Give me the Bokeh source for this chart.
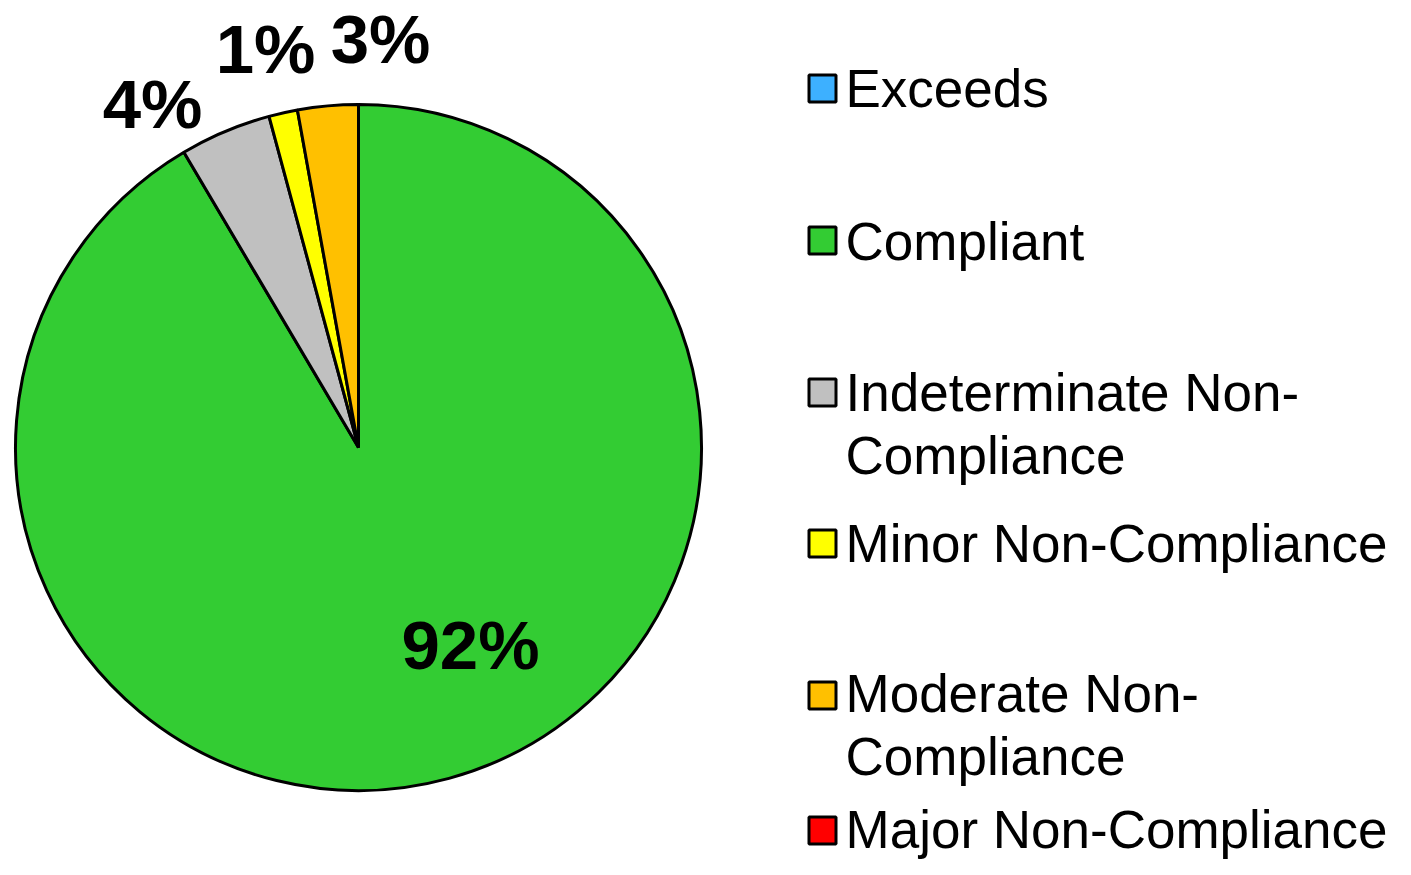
import math
from bokeh.plotting import figure
from bokeh.models import ColumnDataSource
from bokeh.core.properties import value
from bokeh.embed import file_html
from bokeh.resources import INLINE

# ---------------- data ----------------
categories = ["Exceeds", "Compliant", "Indeterminate Non-Compliance",
              "Minor Non-Compliance", "Moderate Non-Compliance", "Major Non-Compliance"]
shares = [0.0, 91.5, 4.3, 1.35, 2.85, 0.0]
pct_labels = ["", "92%", "4%", "1%", "3%", ""]
colors = ["#3DB0FF", "#33CC33", "#C0C0C0", "#FFFF00", "#FFC000", "#FF0000"]
legend_lines = [["Exceeds"], ["Compliant"], ["Indeterminate Non-", "Compliance"],
                ["Minor Non-Compliance"], ["Moderate Non-", "Compliance"],
                ["Major Non-Compliance"]]

# ---------------- layout (picture pixels) ----------------
W, H = 1395, 859
def X(px): return px
def Y(py): return H - py

cx, cy, R = 358, 447, 343
label_pos = {1: (470, 645), 2: (152, 104), 3: (265, 49), 4: (380, 39)}
legend_sq_x = 822
legend_sq_y = [88, 240, 392, 543, 695, 830]
legend_text_x = 845
legend_text_y = [88, 241, 392, 543, 693, 829]
line_gap = 63

FONT = value("Liberation Sans")

p = figure(width=W, height=H, x_range=(0, W), y_range=(0, H),
           x_axis_type=None, y_axis_type=None, toolbar_location=None,
           output_backend="svg", min_border=0)
p.outline_line_color = None
p.grid.visible = False
p.background_fill_color = "white"

total = sum(shares)
starts, ends, wcols = [], [], []
cum = 0.0
for s, c in zip(shares, colors):
    a0 = math.pi / 2 - 2 * math.pi * cum / total
    cum += s
    a1 = math.pi / 2 - 2 * math.pi * cum / total
    if s > 0:
        starts.append(a0)
        ends.append(a1)
        wcols.append(c)

src = ColumnDataSource(dict(x=[X(cx)] * len(starts), y=[Y(cy)] * len(starts),
                            start=starts, end=ends, color=wcols))
p.wedge(x="x", y="y", radius=R, start_angle="start", end_angle="end",
        direction="clock", fill_color="color", line_color="black",
        line_width=3, source=src)

# percentage labels
lx, ly, lt = [], [], []
for i, t in enumerate(pct_labels):
    if t and i in label_pos:
        lx.append(X(label_pos[i][0]))
        ly.append(Y(label_pos[i][1]))
        lt.append(t)
p.text(x=lx, y=ly, text=lt, text_font=FONT, text_font_style="bold",
       text_font_size="69px", text_align="center", text_baseline="middle",
       text_color="black")

# legend
p.rect(x=[X(legend_sq_x)] * len(categories), y=[Y(v) for v in legend_sq_y],
       width=27, height=27, fill_color=colors, line_color="black", line_width=3)
tx, ty, tt = [], [], []
for lines, c in zip(legend_lines, legend_text_y):
    for k, ln in enumerate(lines):
        tx.append(X(legend_text_x))
        ty.append(Y(c + k * line_gap))
        tt.append(ln)
p.text(x=tx, y=ty, text=tt, text_font=FONT, text_font_size="53px",
       text_align="left", text_baseline="middle", text_color="black")

open("out.html", "w").write(file_html(p, INLINE))
